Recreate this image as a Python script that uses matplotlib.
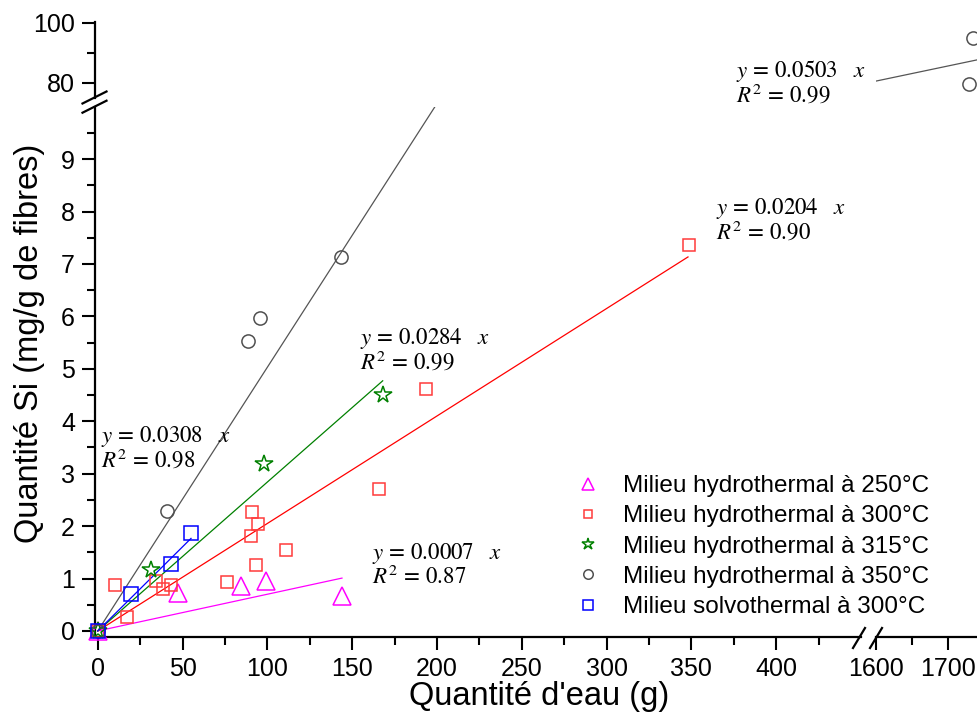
import matplotlib
matplotlib.use("Agg")
import matplotlib.pyplot as plt
import numpy as np
from matplotlib.lines import Line2D

plt.rcParams["font.family"] = ["Liberation Sans", "DejaVu Sans"]
plt.rcParams["mathtext.fontset"] = "stix"

# ---- data ----
series_labels = [
    "Milieu hydrothermal à 250°C",
    "Milieu hydrothermal à 300°C",
    "Milieu hydrothermal à 315°C",
    "Milieu hydrothermal à 350°C",
    "Milieu solvothermal à 300°C",
]
x_250 = [0, 47.3, 84.6, 99.1, 144.2]
y_250 = [0, 0.72, 0.85, 0.96, 0.67]
x_300 = [0, 10.2, 17.1, 34.4, 38.3, 43.0, 76.0, 90.2, 91.0, 93.3, 94.5, 111.2, 165.9, 193.6, 348.6]
y_300 = [0, 0.88, 0.27, 0.96, 0.80, 0.88, 0.94, 1.82, 2.27, 1.26, 2.04, 1.55, 2.70, 4.62, 7.36]
x_315 = [0, 31.2, 98.1, 168.0]
y_315 = [0, 1.17, 3.18, 4.50]
x_350 = [0, 40.7, 88.4, 95.7, 143.6, 1729, 1735]
y_350 = [0, 2.29, 5.54, 5.96, 7.13, 79.6, 94.8]
x_solvo = [0, 19.6, 43.0, 55.2]
y_solvo = [0, 0.70, 1.28, 1.86]

# linear fits through the origin (slope, last x of the drawn line)
fit_slopes = [0.0070, 0.0205, 0.0284, 0.0503, 0.0321]
fit_xmax = [144, 348, 168, 1742, 55]

eq_lines = [
    (r"$y\,=\,0.0308\ \ \ x$", r"$R^2\,=\,0.98$"),
    (r"$y\,=\,0.0284\ \ \ x$", r"$R^2\,=\,0.99$"),
    (r"$y\,=\,0.0204\ \ \ x$", r"$R^2\,=\,0.90$"),
    (r"$y\,=\,0.0007\ \ \ x$", r"$R^2\,=\,0.87$"),
    (r"$y\,=\,0.0503\ \ \ x$", r"$R^2\,=\,0.99$"),
]

# ---- styles ----
colors = ["#ff00ff", "#ff3b3b", "#008000", "#505050", "#0000ff"]
line_colors = ["#ff00ff", "#ff0000", "#008000", "#555555", "#0000ff"]
markers = ["^", "s", "*", "o", "s"]
msizes = [12.5, 8.5, 13, 9.5, 9.5]

W, H = 978, 713
fig = plt.figure(figsize=(W / 100, H / 100), dpi=100)


def fx(px):
    return px / W


def fy(py):
    return 1 - py / H


xl0, xl1 = 95.2, 861.0     # left panel, px
xr0, xr1 = 876.0, 978.0    # right panel, px
yb0, yb1 = 636.7, 106.7    # lower panel, px (bottom, top)
yt0, yt1 = 97.5, 21.7      # upper panel, px

ax_ll = fig.add_axes([fx(xl0), fy(yb0), fx(xl1 - xl0), (yb0 - yb1) / H])
ax_ul = fig.add_axes([fx(xl0), fy(yt0), fx(xl1 - xl0), (yt0 - yt1) / H])
ax_lr = fig.add_axes([fx(xr0), fy(yb0), fx(xr1 - xr0), (yb0 - yb1) / H])
ax_ur = fig.add_axes([fx(xr0), fy(yt0), fx(xr1 - xr0), (yt0 - yt1) / H])

for ax in (ax_ll, ax_ul, ax_lr, ax_ur):
    ax.set_facecolor("none")
    for s in ax.spines.values():
        s.set_visible(False)
        s.set_linewidth(1.6)
    ax.tick_params(which="major", direction="out", length=9.5, width=1.5,
                   labelsize=18, pad=5)
    ax.tick_params(which="minor", direction="out", length=5.5, width=1.5)

ax_ll.set_xlim(-1.5, 450)
ax_ll.set_ylim(-0.11, 10.0)
ax_ul.set_xlim(-1.5, 450)
ax_ul.set_ylim(75, 100.3)
ax_lr.set_xlim(1600, 1742)
ax_lr.set_ylim(-0.11, 10.0)
ax_ur.set_xlim(1600, 1742)
ax_ur.set_ylim(75, 100.3)

ax_ll.spines["left"].set_visible(True)
ax_ll.spines["bottom"].set_visible(True)
ax_ll.set_xticks(np.arange(0, 401, 50))
ax_ll.set_xticks(np.arange(25, 426, 50), minor=True)
ax_ll.set_yticks(np.arange(0, 10, 1))
ax_ll.set_yticks(np.arange(0.5, 10, 1), minor=True)

ax_ul.spines["left"].set_visible(True)
ax_ul.set_yticks([80, 100])
ax_ul.set_yticks([90], minor=True)
ax_ul.set_xticks([])

ax_lr.spines["bottom"].set_visible(True)
ax_lr.set_xticks([1600, 1700])
ax_lr.set_xticks([1650], minor=True)
ax_lr.set_yticks([])

ax_ur.set_xticks([])
ax_ur.set_yticks([])

# ---- fit lines ----
for slope, xmax, c in zip(fit_slopes, fit_xmax, line_colors):
    xs = np.array([0, xmax])
    for ax in (ax_ll, ax_ur):
        ax.plot(xs, slope * xs, color=c, lw=0.9, zorder=2)

# ---- points ----
all_x = [x_250, x_300, x_315, x_350, x_solvo]
all_y = [y_250, y_300, y_315, y_350, y_solvo]
handles = []
for xs, ys, c, m, ms, lab in zip(all_x, all_y, colors, markers, msizes, series_labels):
    xs = np.array(xs)
    ys = np.array(ys)
    low = xs <= 450
    ax_ll.plot(xs[low], ys[low], ls="none", marker=m, ms=ms, mfc="none",
               mec=c, mew=1.1, clip_on=False, zorder=3)
    ax_ur.plot(xs[~low], ys[~low], ls="none", marker=m, ms=ms, mfc="none",
               mec=c, mew=1.1, zorder=3)
    handles.append(Line2D([], [], ls="none", marker=m, ms=ms * 0.72, mfc="none",
                          mec=c, mew=1.1))

leg = fig.legend(handles, series_labels, loc="upper left",
                 bbox_to_anchor=(fx(576), fy(475)), frameon=False,
                 fontsize=17.5, handlelength=1.0, handletextpad=0.93,
                 labelspacing=0.34, borderpad=0, borderaxespad=0)

# ---- equation annotations (two lines each, one text block) ----
eq_pos = [(101, 448), (360, 350), (716, 220), (372, 565), (736, 82)]
for (t1, t2), (px, py) in zip(eq_lines, eq_pos):
    fig.text(fx(px), fy(py), t1 + "\n" + t2, fontsize=16.5, ha="left",
             va="center", linespacing=0.95)

# ---- axis labels ----
fig.text(fx(30), fy(343), "Quantité Si (mg/g de fibres)", rotation=90,
         fontsize=23.5, ha="center", va="center")
fig.text(fx(539), fy(697), "Quantité d'eau (g)", fontsize=23.5,
         ha="center", va="center")

# ---- break marks ----
def brk(cx, cy):
    fig.add_artist(Line2D([fx(cx - 12), fx(cx + 12)], [fy(cy + 6), fy(cy - 6)],
                          color="black", lw=1.6))

brk(94.5, 97.5)
brk(94.5, 106.7)


def brk_x(cx, cy):
    fig.add_artist(Line2D([fx(cx - 6), fx(cx + 6)], [fy(cy + 10), fy(cy - 10)],
                          color="black", lw=1.6))

brk_x(859, 638)
brk_x(876, 638)

fig.savefig("out.png", dpi=100)
